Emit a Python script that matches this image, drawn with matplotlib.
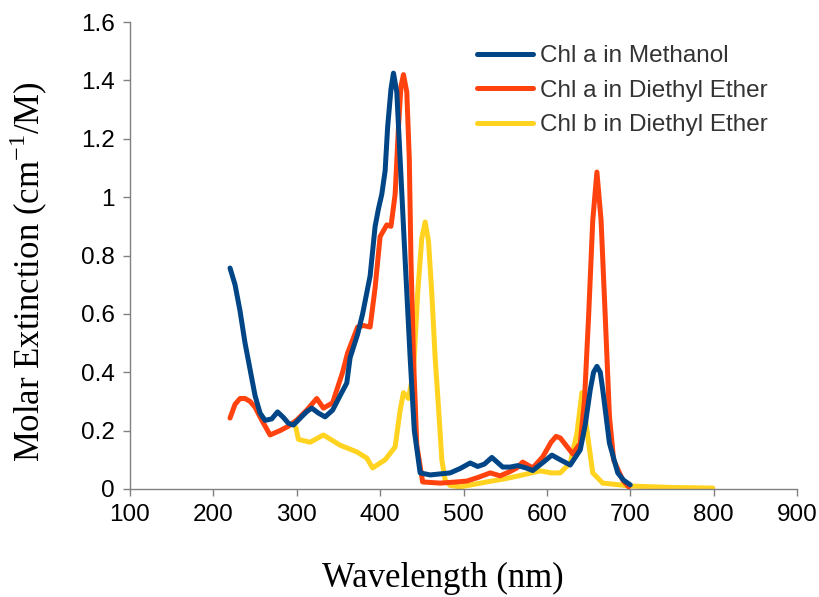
import matplotlib
matplotlib.use("Agg")
import matplotlib.pyplot as plt
from matplotlib.ticker import FormatStrFormatter

# Chl a in methanol
wl_a_meoh = [220, 226, 232, 238, 244, 250, 256, 262, 270, 277, 284, 290, 296, 305, 312, 318,
             326, 334, 343, 352, 360, 364, 373, 379, 388, 394, 398, 402, 406, 409, 413, 416,
             420, 424, 430, 436, 441, 448, 460, 484, 496, 508, 517, 525, 534, 547, 556, 565,
             575, 583, 595, 606, 616, 628, 640, 646, 652, 656, 660, 664, 667, 675, 685, 692, 700]
ext_a_meoh = [0.757, 0.70, 0.61, 0.50, 0.41, 0.32, 0.26, 0.235, 0.24, 0.264, 0.245, 0.225, 0.219,
              0.245, 0.265, 0.277, 0.26, 0.247, 0.27, 0.32, 0.363, 0.45, 0.53, 0.60, 0.73, 0.90,
              0.96, 1.01, 1.09, 1.24, 1.37, 1.425, 1.36, 1.13, 0.785, 0.45, 0.2, 0.055, 0.048,
              0.055, 0.07, 0.089, 0.077, 0.085, 0.108, 0.075, 0.075, 0.08, 0.072, 0.063, 0.09,
              0.116, 0.10, 0.082, 0.134, 0.22, 0.34, 0.40, 0.42, 0.40, 0.34, 0.157, 0.055, 0.03, 0.014]

# Chl a in diethyl ether
wl_a_eth = [220, 226, 232, 238, 244, 250, 258, 268, 280, 290, 300, 312, 324, 332, 343, 355, 361,
            373, 380, 388, 394, 400, 408, 413, 418, 422, 425, 428, 432, 435, 437, 440, 444, 451,
            472, 492, 504, 518, 532, 544, 556, 564, 571, 583, 595, 605, 611, 616, 631, 640, 645,
            650, 655, 660, 665, 670, 675, 680, 691, 698]
ext_a_eth = [0.243, 0.29, 0.31, 0.31, 0.30, 0.28, 0.236, 0.185, 0.20, 0.215, 0.236, 0.27, 0.31,
             0.277, 0.295, 0.40, 0.466, 0.555, 0.56, 0.555, 0.69, 0.865, 0.905, 0.90, 1.01, 1.24,
             1.38, 1.42, 1.36, 1.13, 0.785, 0.45, 0.15, 0.024, 0.02, 0.024, 0.027, 0.04, 0.055,
             0.045, 0.06, 0.072, 0.092, 0.072, 0.11, 0.16, 0.18, 0.175, 0.12, 0.157, 0.30, 0.59,
             0.92, 1.086, 0.92, 0.59, 0.25, 0.10, 0.03, 0.007]

# Chl b in diethyl ether
wl_b_eth = [299, 302, 316, 332, 352, 372, 384, 391, 406, 418, 424, 428, 434, 440, 445, 450, 454,
            458, 462, 466, 470, 474, 478, 484, 496, 528, 550, 571, 592, 605, 616, 628, 636, 642,
            649, 655, 667, 700, 750, 799]
ext_b_eth = [0.21, 0.17, 0.16, 0.185, 0.15, 0.127, 0.106, 0.072, 0.10, 0.144, 0.27, 0.33, 0.31,
             0.40, 0.67, 0.86, 0.915, 0.85, 0.67, 0.45, 0.28, 0.10, 0.03, 0.012, 0.007, 0.024,
             0.035, 0.048, 0.062, 0.055, 0.055, 0.089, 0.19, 0.33, 0.18, 0.055, 0.02, 0.01,
             0.005, 0.003]

labels = ["Chl a in Methanol", "Chl a in Diethyl Ether", "Chl b in Diethyl Ether"]
colors = ["#004586", "#ff420e", "#ffd320"]

plt.rcParams["mathtext.fontset"] = "custom"
plt.rcParams["mathtext.rm"] = "Liberation Serif"

fig = plt.figure(figsize=(8.2, 5.97), dpi=100)
ax = fig.add_axes([0.1585, 0.181, 0.8135, 0.782])

# yellow behind, blue on top
kw = dict(lw=3.6, solid_joinstyle="round", solid_capstyle="round")
ax.plot(wl_b_eth, ext_b_eth, color=colors[2], label=labels[2], zorder=2, **kw)
ax.plot(wl_a_eth, ext_a_eth, color=colors[1], label=labels[1], zorder=3, **kw)
ax.plot(wl_a_meoh, ext_a_meoh, color=colors[0], label=labels[0], zorder=4, **kw)

ax.set_xlim(100, 900)
ax.set_ylim(0, 1.6)
ax.set_xticks(range(100, 901, 100))
ax.set_yticks([0, 0.2, 0.4, 0.6, 0.8, 1.0, 1.2, 1.4, 1.6])
ax.yaxis.set_major_formatter(FormatStrFormatter("%g"))

for s in ["top", "right"]:
    ax.spines[s].set_visible(False)
for s in ["left", "bottom"]:
    ax.spines[s].set_color("#808080")
    ax.spines[s].set_linewidth(1.0)
ax.tick_params(direction="out", length=5, width=1, color="#808080",
               labelsize=17.5, labelcolor="black", pad=6)
for lab in ax.get_xticklabels() + ax.get_yticklabels():
    lab.set_family("Liberation Sans")

# axis titles are centred on the chart area, not the plot area
fig.text(443 / 820, 1 - 578 / 597, "Wavelength (nm)", family="Liberation Serif",
         fontsize=25, ha="center", va="center")
fig.text(29 / 820, 1 - 272 / 597, r"Molar Extinction (cm$^{\mathrm{-1}}$/M)",
         family="Liberation Serif", fontsize=25, rotation=90, ha="center", va="center")

h, l = ax.get_legend_handles_labels()
order = [2, 1, 0]
leg = fig.legend([h[i] for i in order], [l[i] for i in order], loc="upper left",
                 bbox_to_anchor=(477 / 820, 1 - 45 / 597), frameon=False, borderpad=0,
                 borderaxespad=0, prop={"family": "Liberation Sans", "size": 17.5},
                 handlelength=2.3, handletextpad=0.3, labelspacing=0.52)
for t in leg.get_texts():
    t.set_color("#333333")

fig.savefig("out.png", dpi=100)
